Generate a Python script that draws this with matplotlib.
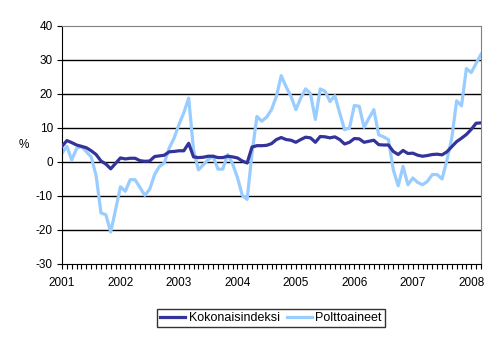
import matplotlib
matplotlib.use("Agg")
import matplotlib.pyplot as plt

# monthly values, Jan 2001 .. Mar 2008 (year-on-year change, %)
kokonaisindeksi = [
    4.6, 6.3, 5.7, 5.0, 4.6, 4.2, 3.3, 2.2, 0.3, -0.6, -2.0, -0.4,
    1.2, 0.9, 1.1, 1.1, 0.4, 0.2, 0.3, 1.6, 1.8, 2.0, 3.0, 3.1,
    3.3, 3.3, 5.5, 1.5, 1.3, 1.4, 1.7, 1.7, 1.3, 1.3, 1.7, 1.5,
    1.2, 0.3, -0.3, 4.4, 4.8, 4.8, 4.9, 5.4, 6.6, 7.2, 6.6, 6.4,
    5.8, 6.6, 7.3, 7.1, 5.8, 7.5, 7.4, 7.1, 7.4, 6.6, 5.3, 5.8,
    6.9, 6.8, 5.8, 6.1, 6.4, 5.1, 5.0, 5.0, 3.1, 2.2, 3.4, 2.5,
    2.6, 2.0, 1.7, 1.9, 2.2, 2.3, 2.1, 3.0, 4.5, 6.0, 7.0, 8.1,
    9.6, 11.4, 11.5,
]
polttoaineet = [
    2.6, 4.6, 0.6, 4.0, 4.6, 3.0, 1.5, -4.0, -15.0, -15.5, -20.6, -14.0,
    -7.3, -8.6, -5.2, -5.2, -7.5, -9.8, -8.0, -3.7, -1.3, -0.3, 4.1, 7.0,
    11.0, 14.5, 18.8, 3.5, -2.3, -0.8, 0.7, 1.7, -2.1, -2.1, 2.2, -0.5,
    -4.5, -9.8, -11.0, 2.5, 13.4, 12.0, 13.2, 15.4, 19.3, 25.4, 22.1, 19.3,
    15.4, 18.8, 21.5, 20.1, 12.5, 21.5, 20.8, 17.8, 19.5, 14.4, 9.5, 10.0,
    16.6, 16.4, 10.2, 12.9, 15.4, 8.0, 7.4, 6.6, -2.3, -7.0, -1.3, -6.7,
    -4.7, -6.0, -6.7, -5.7, -3.7, -3.7, -5.0, 0.5, 7.0, 18.0, 16.5, 27.5,
    26.3, 29.0, 31.7,
]
years = ["2001", "2002", "2003", "2004", "2005", "2006", "2007", "2008"]
series_names = ["Kokonaisindeksi", "Polttoaineet"]

plt.rcParams["font.family"] = ["Liberation Sans", "DejaVu Sans"]
plt.rcParams["axes.unicode_minus"] = False

fig = plt.figure(figsize=(4.95, 3.38), dpi=100)
ax = fig.add_axes([62 / 495, 1 - 264 / 338, 419 / 495, 238 / 338])

months = list(range(len(kokonaisindeksi)))
ax.plot(months, kokonaisindeksi, color="#333399", lw=2.3, label=series_names[0], zorder=3)
ax.plot(months, polttoaineet, color="#99ccff", lw=2.3, label=series_names[1], zorder=2)

ax.set_xlim(0, len(months) - 1)
ax.set_ylim(-30, 40)
ax.set_yticks(range(-30, 41, 10))
for v in range(-20, 40, 10):
    ax.axhline(v, color="black", lw=1.0, zorder=1)

ax.set_xticks([12 * k for k in range(len(years))])
ax.set_xticklabels(years)
ax.set_xticks(months, minor=True)
ax.tick_params(axis="x", which="both", direction="out", length=3.5, width=0.8, pad=6, labelsize=8.5)
ax.tick_params(axis="y", direction="out", length=3.5, width=0.8, pad=3, labelsize=8.5)

for side in ("top", "right"):
    ax.spines[side].set_color("#808080")
for side in ("left", "bottom"):
    ax.spines[side].set_color("black")

fig.text(24 / 495, 1 - 145 / 338, "%", ha="center", va="center", fontsize=8.5)

leg = fig.legend(loc="center", bbox_to_anchor=(271 / 495, 1 - 318 / 338), ncol=2,
                 frameon=True, fancybox=False, fontsize=9, handlelength=2.0,
                 handletextpad=0.25, columnspacing=0.6, borderpad=0.25)
leg.get_frame().set_edgecolor("black")
leg.get_frame().set_linewidth(1.0)

fig.savefig("out.png", dpi=100)
